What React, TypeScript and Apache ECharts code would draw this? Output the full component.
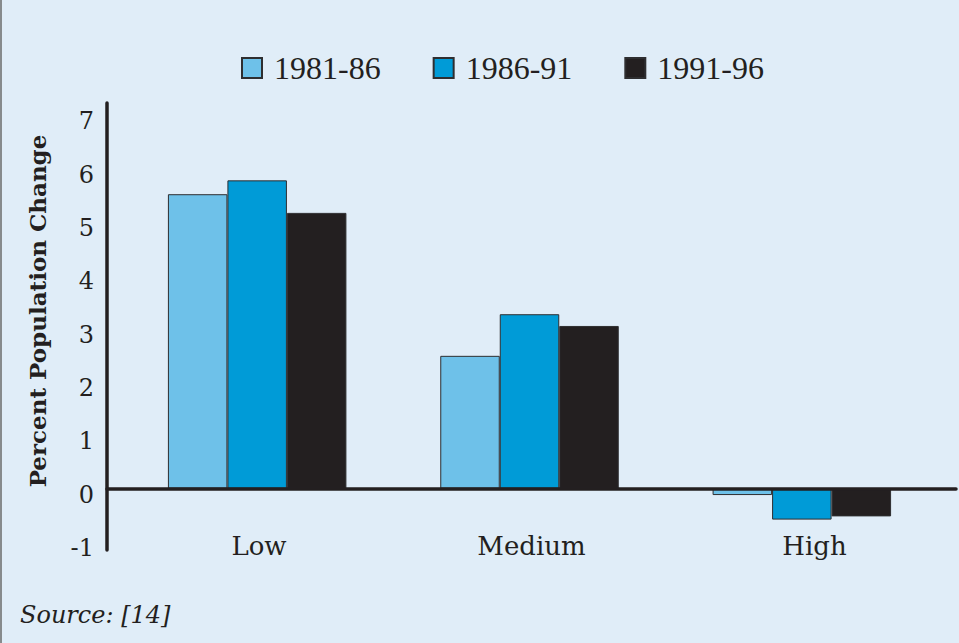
import React, { useEffect, useRef } from "react";
import * as echarts from "echarts";

const categories = ["Low", "Medium", "High"];
const seriesNames = ["1981-86", "1986-91", "1991-96"];
const values1981 = [5.52, 2.49, -0.12];
const values1986 = [5.78, 3.27, -0.58];
const values1991 = [5.17, 3.05, -0.52];
const yTickValues = [-1, 0, 1, 2, 3, 4, 5, 6, 7];
const yMin = -1.15;
const yMax = 7.23;

const colors = ["#6ec1e9", "#009bd7", "#231f20"];
const ink = "#231f20";

export default function App() {
  const ref = useRef<HTMLDivElement>(null);
  useEffect(() => {
    if (!ref.current) return;
    const chart = echarts.init(ref.current, null, { renderer: "svg" });
    const seriesValues = [values1981, values1986, values1991];
    chart.setOption({
      animation: false,
      backgroundColor: "#e0edf8",
      legend: {
        left: 236,
        top: 47,
        itemWidth: 20,
        itemHeight: 20,
        itemGap: 52,
        icon: "rect",
        data: seriesNames,
        textStyle: {
          fontFamily: "Liberation Serif",
          fontSize: 32,
          color: ink,
          padding: [0, 0, 0, 7],
        },
      },
      grid: [
        { left: 107, right: 3, top: 103, bottom: 93 },
        { left: 121, right: 21, top: 103, bottom: 93 },
      ],
      xAxis: [
        {
          type: "category",
          gridIndex: 0,
          data: [
            { value: categories[0], textStyle: { padding: [0, 0, 0, 21] } },
            categories[1],
            categories[2],
          ],
          axisLine: { show: true, onZero: true, lineStyle: { color: ink, width: 3.5 } },
          axisTick: { show: false },
          axisLabel: {
            margin: -17,
            fontFamily: "DejaVu Serif",
            fontSize: 26,
            color: ink,
          },
          z: 5,
        },
        {
          type: "category",
          gridIndex: 1,
          data: categories,
          show: false,
        },
      ],
      yAxis: [
        {
          type: "value",
          gridIndex: 0,
          min: yMin,
          max: yMax,
          axisLine: { show: true, lineStyle: { color: ink, width: 3.5 } },
          axisTick: { show: false },
          splitLine: { show: false },
          axisLabel: {
            customValues: yTickValues,
            margin: 13,
            formatter: "{a|{value}}",
            rich: {
              a: {
                fontFamily: "DejaVu Serif",
                fontSize: 24,
                color: ink,
                padding: [12, 0, 0, 0],
              },
            },
          },
          z: 5,
        },
        {
          type: "value",
          gridIndex: 1,
          min: yMin,
          max: yMax,
          show: false,
          splitLine: { show: false },
        },
      ],
      graphic: [
        {
          type: "line",
          shape: { x1: 1, y1: 0, x2: 1, y2: 643 },
          style: { stroke: "#6a6a6a", lineWidth: 1.5 },
        },
        {
          type: "text",
          x: 37,
          y: 311,
          rotation: Math.PI / 2,
          style: {
            text: "Percent Population Change",
            fontFamily: "DejaVu Serif",
            fontWeight: "bold",
            fontSize: 23,
            fill: ink,
            align: "center",
            verticalAlign: "middle",
          },
        },
        {
          type: "text",
          x: 20,
          y: 615,
          style: {
            text: "Source: [14]",
            fontFamily: "DejaVu Serif",
            fontStyle: "italic",
            fontSize: 24,
            fill: ink,
            align: "left",
            verticalAlign: "middle",
          },
        },
      ],
      series: seriesNames.map((name, i) => ({
        name,
        type: "bar",
        xAxisIndex: 1,
        yAxisIndex: 1,
        data: seriesValues[i],
        barWidth: 59.5,
        barGap: "0%",
        itemStyle: { color: colors[i], borderColor: "#2e2e30", borderWidth: 1 },
        z: 2,
      })),
    });
    return () => chart.dispose();
  }, []);
  return (
    <div
      ref={ref}
      style={{ position: "fixed", left: 0, top: 0, width: 959, height: 643 }}
    />
  );
}
